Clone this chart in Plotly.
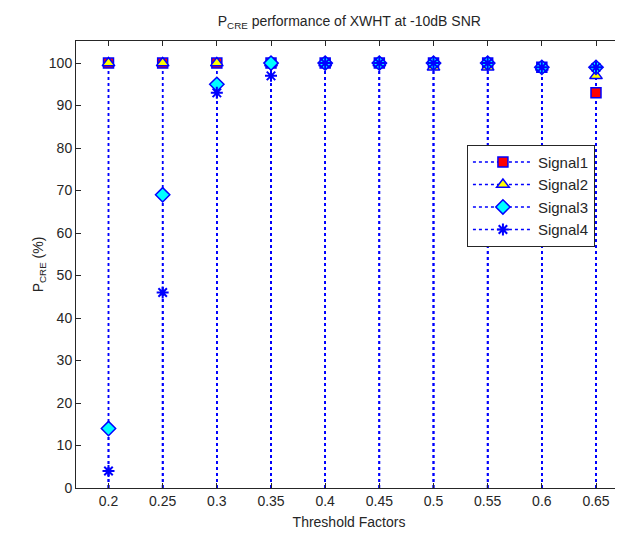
import plotly.graph_objects as go

thresholds = [0.2, 0.25, 0.3, 0.35, 0.4, 0.45, 0.5, 0.55, 0.6, 0.65]
tick_labels = ["0.2", "0.25", "0.3", "0.35", "0.4", "0.45", "0.5", "0.55", "0.6", "0.65"]
signal1 = [100, 100, 100, 100, 100, 100, 100, 100, 99, 93]
signal2 = [100, 100, 100, 100, 100, 100, 99, 99, 99, 97]
signal3 = [14, 69, 95, 100, 100, 100, 100, 100, 99, 99]
signal4 = [4, 46, 93, 97, 100, 100, 100, 100, 99, 99]
y_ticks = list(range(0, 101, 10))

series = [
    ("Signal1", signal1, dict(symbol="square", color="#ff0000", size=10,
                              line=dict(color="#0000ff", width=1.5))),
    ("Signal2", signal2, dict(symbol="triangle-up", color="#ffff00", size=11,
                              line=dict(color="#0000ff", width=1.5))),
    ("Signal3", signal3, dict(symbol="diamond", color="#00ffff", size=11,
                              line=dict(color="#0000ff", width=1.5))),
    ("Signal4", signal4, dict(symbol="asterisk-open", color="#0000ff", size=10,
                              line=dict(color="#0000ff", width=2))),
]

stem_line = dict(color="#0000ff", width=1.5, dash="dot")

fig = go.Figure()

# stems
for name, vals, mk in series:
    sx, sy = [], []
    for x, v in zip(thresholds, vals):
        sx += [x, x, None]
        sy += [0, v, None]
    fig.add_trace(go.Scatter(x=sx, y=sy, mode="lines", line=stem_line,
                             showlegend=False, hoverinfo="skip"))

# markers (isolated points so lines do not connect, but legend shows dotted line)
for name, vals, mk in series:
    mx, my = [], []
    for x, v in zip(thresholds, vals):
        mx += [x, None]
        my += [v, None]
    fig.add_trace(go.Scatter(x=mx, y=my, mode="lines+markers", name=name,
                             line=stem_line, marker=mk, connectgaps=False))

font_family = "Liberation Sans, Arial, sans-serif"

fig.update_layout(
    width=615, height=530,
    margin=dict(l=68, r=1, t=33, b=50),
    paper_bgcolor="white", plot_bgcolor="white",
    font=dict(family=font_family, size=14, color="#262626"),
    title=dict(text="P<sub>CRE</sub> performance of XWHT at -10dB SNR",
               x=0.555, xanchor="center", y=0.975, yanchor="middle",
               font=dict(size=14, color="#262626")),
    showlegend=True,
    legend=dict(x=0.716, y=0.768, xanchor="left", yanchor="top",
                bgcolor="white", bordercolor="#262626", borderwidth=1,
                font=dict(size=15, color="#262626"), tracegroupgap=0,
                itemwidth=60),
    xaxis=dict(range=[0.17, 0.674], tickvals=thresholds, ticktext=tick_labels,
               ticks="inside", ticklen=5, tickcolor="#262626",
               showline=True, linecolor="#262626", linewidth=1, mirror="ticks",
               showgrid=False, zeroline=False,
               title=dict(text="Threshold Factors", standoff=9,
                          font=dict(size=14)),
               tickfont=dict(size=14)),
    yaxis=dict(range=[0, 105.2], tickvals=y_ticks,
               ticks="inside", ticklen=5, tickcolor="#262626",
               showline=True, linecolor="#262626", linewidth=1, mirror="ticks",
               showgrid=False, zeroline=False,
               title=dict(text="P<sub>CRE</sub> (%)", standoff=1,
                          font=dict(size=14)),
               tickfont=dict(size=14)),
)

fig.write_html("out.html")
